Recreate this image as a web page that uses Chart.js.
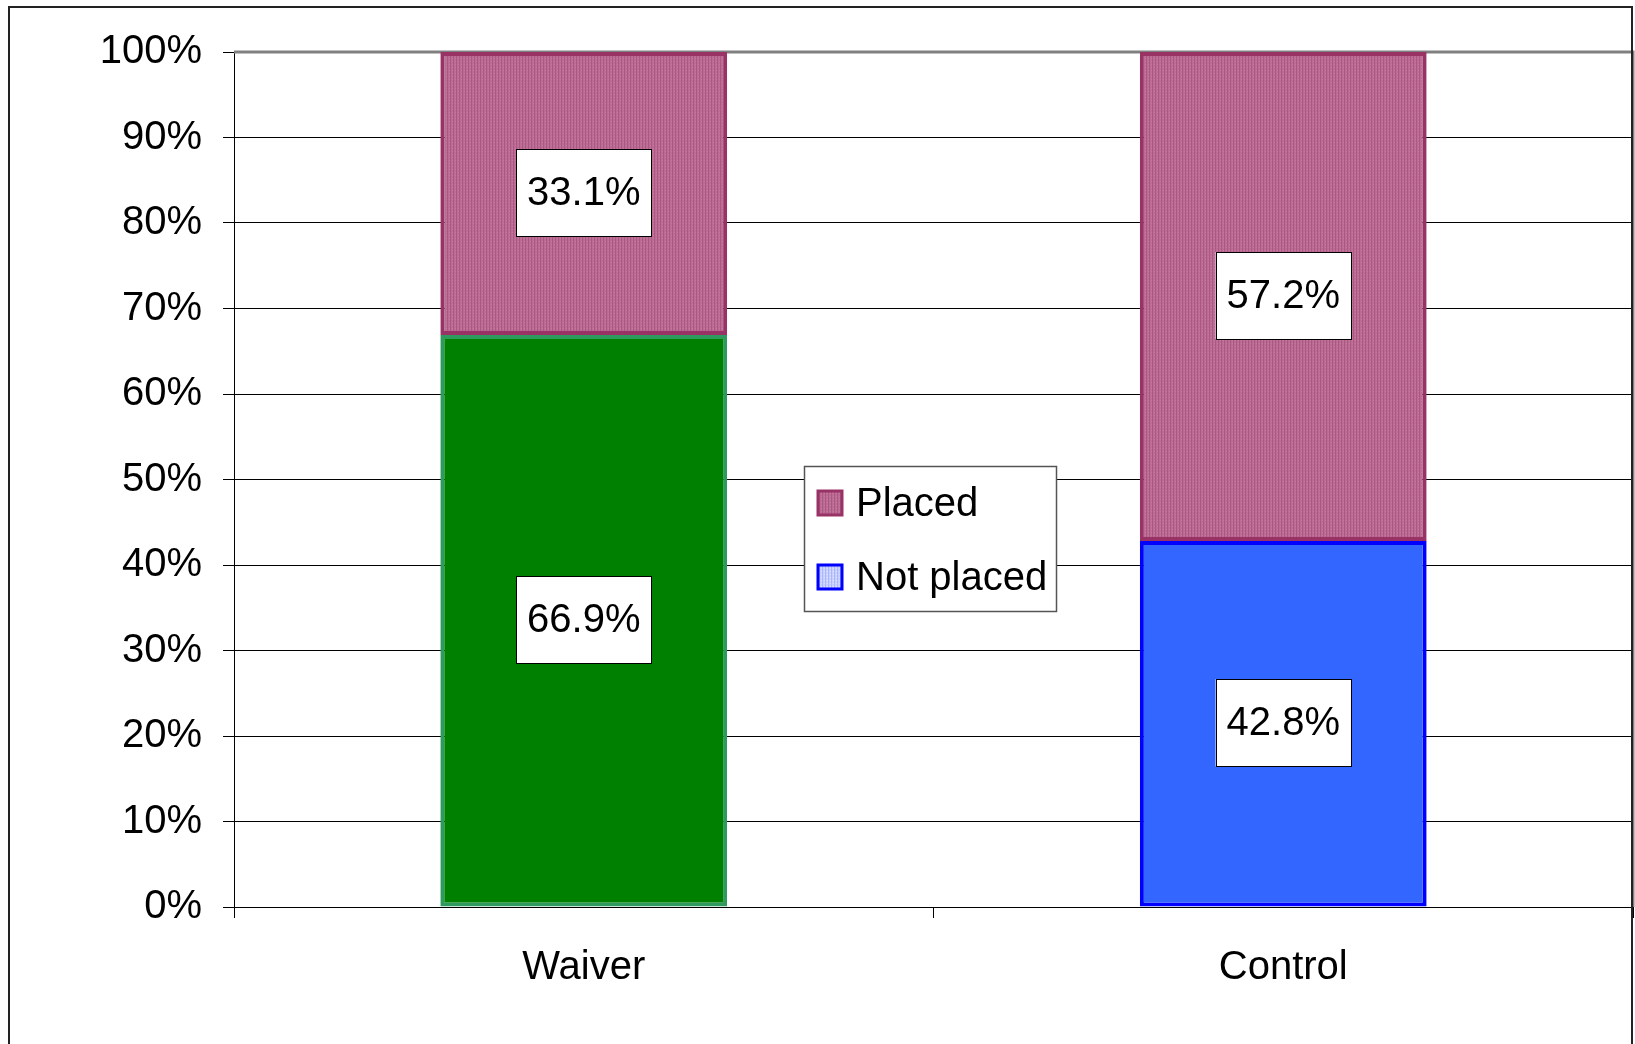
<!DOCTYPE html>
<html>
<head>
<meta charset="utf-8">
<script src="https://cdn.jsdelivr.net/npm/chart.js@4.4.1/dist/chart.umd.min.js"></script>
<style>
  html, body { margin: 0; padding: 0; background: #ffffff; }
  #wrap { width: 1635px; height: 1044px; }
</style>
</head>
<body>
<div id="wrap"><canvas id="chart" width="1635" height="1044"></canvas></div>
<script>
const categories = ['Waiver', 'Control'];
const notPlaced = [66.9, 42.8];
const placed = [33.1, 57.2];
const seriesNames = ['Not placed', 'Placed'];
const yMax = 100;
const yStep = 10;

const FONT = '"Liberation Sans", Arial, sans-serif';

// little tile textures like the old office fills
function makePattern(base, line, dot) {
  const c = document.createElement('canvas');
  c.width = 3; c.height = 3;
  const g = c.getContext('2d');
  g.fillStyle = base;
  g.fillRect(0, 0, 3, 3);
  g.fillStyle = line;
  g.fillRect(0, 0, 1, 3);
  g.fillStyle = dot;
  g.fillRect(2, 1, 1, 1);
  return g.createPattern(c, 'repeat');
}

const placedFill = makePattern('#bd6b95', '#a95a82', '#c77aa0');
const legendBlue = makePattern('#c8d0ff', '#aab6ff', '#e0e4ff');

const labelBoxes = {
  id: 'labelBoxes',
  afterDatasetsDraw(chart) {
    const ctx = chart.ctx;
    ctx.save();
    ctx.font = '40px ' + FONT;
    ctx.textAlign = 'center';
    ctx.textBaseline = 'middle';
    chart.data.datasets.forEach((ds, i) => {
      chart.getDatasetMeta(i).data.forEach((bar, j) => {
        const txt = ds.data[j].toFixed(1) + '%';
        const cx = bar.x;
        const cy = (bar.y + bar.base) / 2 - 1;
        const w = ctx.measureText(txt).width + 22;
        const h = 87;
        ctx.fillStyle = '#ffffff';
        ctx.fillRect(cx - w / 2, cy - h / 2, w, h);
        ctx.strokeStyle = '#000000';
        ctx.lineWidth = 1;
        ctx.strokeRect(Math.round(cx - w / 2) + 0.5, Math.round(cy - h / 2) + 0.5, Math.round(w), h);
        ctx.fillStyle = '#000000';
        ctx.fillText(txt, cx, cy + 1);
      });
    });
    ctx.restore();
  }
};

const boxLegend = {
  id: 'boxLegend',
  afterDraw(chart) {
    const ctx = chart.ctx;
    const x0 = 804, y0 = 466, w = 252, h = 145;
    ctx.save();
    ctx.fillStyle = '#ffffff';
    ctx.fillRect(x0, y0, w, h);
    ctx.strokeStyle = '#555555';
    ctx.lineWidth = 1.5;
    ctx.strokeRect(x0 + 0.5, y0 + 0.5, w, h);
    const items = [
      { text: seriesNames[1], fill: placedFill, border: '#993366', y: 503 },
      { text: seriesNames[0], fill: legendBlue, border: '#0000ff', y: 577 }
    ];
    ctx.font = '40px ' + FONT;
    ctx.textBaseline = 'middle';
    ctx.textAlign = 'left';
    items.forEach(it => {
      ctx.fillStyle = it.fill;
      ctx.fillRect(818, it.y - 12, 24, 24);
      ctx.strokeStyle = it.border;
      ctx.lineWidth = 3;
      ctx.strokeRect(818, it.y - 12, 24, 24);
      ctx.fillStyle = '#000000';
      ctx.fillText(it.text, 856, it.y + 2);
    });
    ctx.restore();
  }
};

const frame = {
  id: 'frame',
  beforeDatasetsDraw(chart) {
    const a = chart.chartArea;
    const ctx = chart.ctx;
    ctx.save();
    ctx.strokeStyle = '#808080';
    ctx.lineWidth = 3;
    ctx.beginPath();
    ctx.moveTo(a.left, a.top);
    ctx.lineTo(a.right, a.top);
    ctx.lineTo(a.right, a.bottom);
    ctx.stroke();
    ctx.restore();
  },
  afterDraw(chart) {
    const ctx = chart.ctx;
    ctx.save();
    ctx.strokeStyle = '#222222';
    ctx.lineWidth = 2;
    ctx.beginPath();
    ctx.moveTo(9, 1044);
    ctx.lineTo(9, 7);
    ctx.lineTo(1632, 7);
    ctx.lineTo(1632, 1044);
    ctx.stroke();
    ctx.restore();
  }
};

new Chart(document.getElementById('chart'), {
  type: 'bar',
  data: {
    labels: categories,
    datasets: [
      {
        label: seriesNames[0],
        data: notPlaced,
        backgroundColor: ['#008000', '#3366ff'],
        borderColor: ['#2e9a5e', '#0000ff'],
        borderWidth: 4,
        borderSkipped: false
      },
      {
        label: seriesNames[1],
        data: placed,
        backgroundColor: placedFill,
        borderColor: '#993366',
        borderWidth: 4,
        borderSkipped: false
      }
    ]
  },
  options: {
    responsive: false,
    devicePixelRatio: 1,
    animation: false,
    layout: { padding: { left: 0, top: 52, right: 2, bottom: 0 } },
    datasets: { bar: { categoryPercentage: 1, barPercentage: 0.41 } },
    plugins: {
      legend: { display: false },
      tooltip: { enabled: false }
    },
    scales: {
      x: {
        stacked: true,
        afterFit: s => { s.height = 137; },
        grid: { offset: true, drawOnChartArea: false, drawTicks: true, tickLength: 11, tickColor: '#000000' },
        border: { color: '#000000', width: 1 },
        ticks: { color: '#000000', padding: 26, font: { family: FONT, size: 40 } }
      },
      y: {
        stacked: true,
        min: 0,
        max: yMax,
        afterFit: s => { s.width = 234; },
        grid: { color: '#000000', lineWidth: 1, tickLength: 11, tickColor: '#000000' },
        border: { color: '#000000', width: 1 },
        ticks: {
          stepSize: yStep,
          color: '#000000',
          padding: 21,
          font: { family: FONT, size: 40 },
          callback: v => v + '%'
        }
      }
    }
  },
  plugins: [frame, labelBoxes, boxLegend]
});
</script>
</body>
</html>
